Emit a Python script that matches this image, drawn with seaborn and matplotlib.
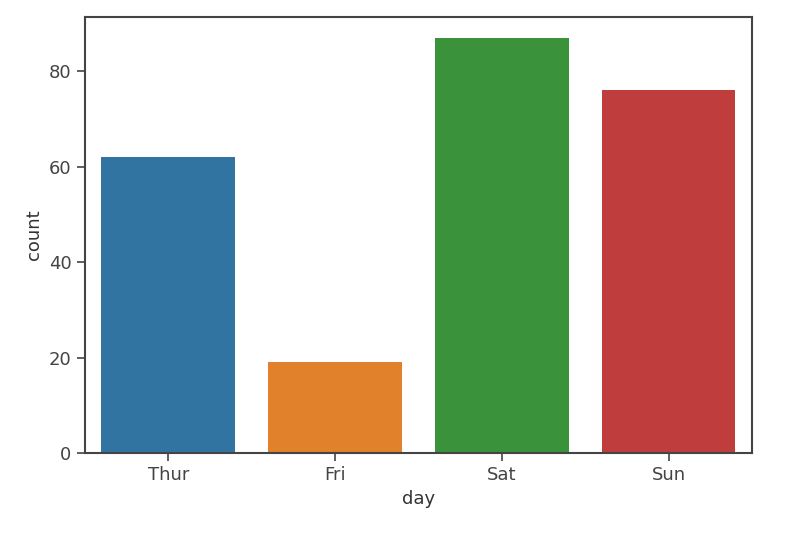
import matplotlib
matplotlib.use("Agg")
import matplotlib.pyplot as plt
import seaborn as sns
import pandas as pd

days = ["Thur", "Fri", "Sat", "Sun"]
counts = [62, 19, 87, 76]
colors = ["#3274a1", "#e1812c", "#3a923a", "#c03d3e"]

df = pd.DataFrame({"day": days, "count": counts})

plt.rcParams["font.family"] = ["DejaVu Sans"]
fig = plt.figure(figsize=(8, 5.33), dpi=100)
ax = fig.add_axes([0.106, 0.150, 0.834, 0.818])
sns.barplot(data=df, x="day", y="count", hue="day", palette=colors,
            legend=False, ax=ax, saturation=1, width=0.8)
ax.set_xlabel("day", fontsize=13, color="#333333")
ax.set_ylabel("count", fontsize=13, color="#333333")
ax.set_yticks([0, 20, 40, 60, 80])
ax.tick_params(labelsize=13, colors="#444444", length=6, width=1.2)
for s in ax.spines.values():
    s.set_color("#444444")
    s.set_linewidth(1.5)
ax.set_ylim(0, 91.35)
ax.set_xlim(-0.5, 3.5)
fig.savefig("out.png", dpi=100)
